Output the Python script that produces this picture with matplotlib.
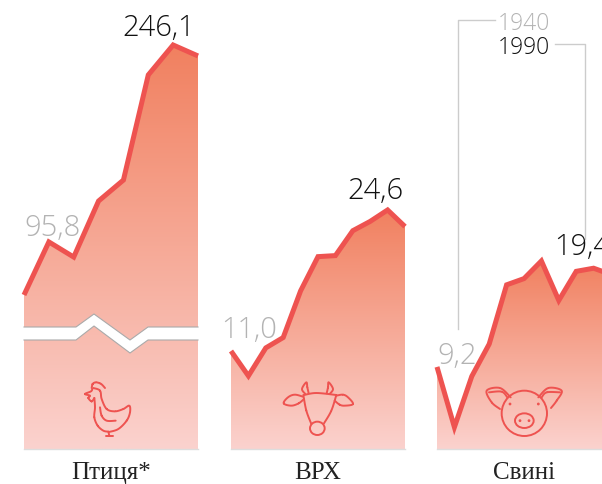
import numpy as np
import matplotlib
matplotlib.use("Agg")
import matplotlib.pyplot as plt
from matplotlib.colors import LinearSegmentedColormap
from matplotlib.path import Path
from matplotlib.patches import Polygon, PathPatch, Circle, Ellipse
from matplotlib.transforms import Affine2D

W, H = 602, 485
RED = "#ee5350"
BASE_Y = 450

# values
poultry = [95.8, 127.7, 118.6, 152.3, 164.9, 228.1, 246.1, 239.5]
cattle = [11.0, 8.6, 11.3, 12.3, 16.8, 20.1, 20.2, 22.6, 23.5, 24.6, 23.0]
pigs = [9.2, 3.4, 8.3, 11.4, 17.1, 17.7, 19.4, 15.6, 18.4, 18.7, 18.1]

names = ["Птиця*", "ВРХ", "Свині"]
first_labels = ["95,8", "11,0", "9,2"]
peak_labels = ["246,1", "24,6", "19,4"]

plt.rcParams["font.family"] = ["Open Sans", "DejaVu Sans"]
fig = plt.figure(figsize=(W / 100, H / 100), dpi=100)
grad = LinearSegmentedColormap.from_list("g", ["#f1805f", "#fbd2ce"])

# figure pixels, y measured from the top
px = Affine2D().scale(1, -1).translate(0, H)


def panel(x0, values, ybottom, yscale):
    ax = fig.add_axes([x0 / W, (H - BASE_Y) / H, 174 / W, BASE_Y / H])
    ylim = (ybottom, ybottom + BASE_Y / yscale)
    xs = np.linspace(0, 1, len(values))
    fill = ax.fill_between(xs, ybottom, values, color="none", lw=0)
    im = ax.imshow(np.linspace(0, 1, 256)[:, None], cmap=grad, aspect="auto",
                   extent=[0, 1, ybottom, max(values)], zorder=1)
    im.set_clip_path(fill.get_paths()[0], transform=ax.transData)
    ax.plot(xs, values, color=RED, lw=3.6, solid_joinstyle="miter",
            solid_capstyle="butt", zorder=3, clip_on=False)
    ax.set_xlim(0, 1)
    ax.set_ylim(ylim)
    ax.axis("off")
    return ax


def smooth(origin, points, lw=1.4):
    # catmull-rom through hand placed icon points, given in 3x crop coordinates
    p = np.array(points, float) / 3 + origin
    p = np.vstack([p[0], p, p[-1]])
    out = []
    for i in range(1, len(p) - 2):
        for t in np.linspace(0, 1, 10):
            a = 2 * p[i] + (p[i + 1] - p[i - 1]) * t
            b = (2 * p[i - 1] - 5 * p[i] + 4 * p[i + 1] - p[i + 2]) * t ** 2
            c = (-p[i - 1] + 3 * p[i] - 3 * p[i + 1] + p[i + 2]) * t ** 3
            out.append(0.5 * (a + b + c))
    codes = [Path.MOVETO] + [Path.LINETO] * (len(out) - 1)
    fig.add_artist(PathPatch(Path(out, codes), fc="none", ec=RED, lw=lw, transform=px,
                             joinstyle="round", capstyle="round", zorder=7))


def ring(origin, cx, cy, rx, ry, lw=1.4):
    fig.add_artist(Ellipse((origin[0] + cx / 3, origin[1] + cy / 3), 2 * rx / 3, 2 * ry / 3,
                           fc="none", ec=RED, lw=lw, transform=px, zorder=7))


def dot(origin, cx, cy):
    fig.add_artist(Circle((origin[0] + cx / 3, origin[1] + cy / 3), 1.4, fc=RED, ec="none",
                          transform=px, zorder=7))


# poultry has its own slope and a cut through the lower part
panel(24, poultry, 3.2, 1.6633)
panel(231, cattle, 1.55, 10.37)
# the pig panel runs past the right edge of the figure
panel(437, pigs, 1.3, 10.39)

# axis break
top_edge = [(24, 328), (76, 328), (94, 315), (130, 341), (148, 328), (198, 328)]
bot_edge = [(24, 341), (76, 341), (94, 327), (130, 354), (148, 341), (198, 341)]
fig.add_artist(Polygon(top_edge + bot_edge[::-1], fc="white", ec="none", transform=px, zorder=5))
for edge in (top_edge, bot_edge):
    fig.add_artist(plt.Line2D(*zip(*edge), color="#aaaaaa", lw=0.8, transform=px, zorder=6))

# baselines
for x0, x1 in [(24, 198), (231, 405), (437, 602)]:
    fig.add_artist(plt.Line2D([x0, x1], [BASE_Y, BASE_Y], color="#dddddd", lw=1, transform=px))


# text
def label(x, y, s, color, size=21, **kw):
    fig.text(x / W, 1 - y / H, s, color=color, fontsize=size, va="baseline", **kw)


label(24, 236, first_labels[0], "#b3b3b3", weight="light")
label(122, 36, peak_labels[0], "#111111", weight="light")
label(221, 338, first_labels[1], "#b3b3b3", weight="light")
label(347, 199, peak_labels[1], "#111111", weight="light")
label(437, 364, first_labels[2], "#b3b3b3", weight="light")
label(554, 255, peak_labels[2], "#111111", weight="light")
label(498, 30, "1940", "#b3b3b3", size=16.5, weight="light")
label(498, 54, "1990", "#111111", size=16.5, weight="light")
for x, s in zip([111, 318, 524], names):
    fig.text(x / W, 1 - 479 / H, s, color="#222222", fontsize=18, ha="center",
             va="baseline", family="Liberation Serif")

# leader lines
for xs, ys in [([458, 458, 495], [330, 21, 21]), ([555, 585, 585], [45, 45, 240])]:
    fig.add_artist(plt.Line2D(xs, ys, color="#cccccc", lw=1, transform=px))

# chicken
o = (75, 375)
smooth(o, [(50, 42), (53, 30), (62, 25), (75, 28), (82, 33), (90, 42)])
smooth(o, [(52, 45), (48, 52), (30, 60), (45, 65), (40, 72), (50, 82), (58, 72)])
smooth(o, [(58, 72), (60, 100), (58, 130), (68, 155), (85, 170), (100, 173)])
smooth(o, [(55, 42), (75, 50), (80, 75), (95, 105), (120, 112), (145, 105), (163, 95),
           (165, 115), (155, 140), (130, 165), (102, 174)])
smooth(o, [(75, 100), (80, 125), (95, 140), (122, 140)])
smooth(o, [(100, 173), (103, 185)])
smooth(o, [(92, 187), (115, 187)])

# cow
o = (278, 375)
smooth(o, [(78, 63), (115, 57), (175, 63)])
smooth(o, [(76, 63), (85, 110), (100, 150)])
smooth(o, [(175, 63), (160, 110), (138, 148)])
ring(o, 118, 163, 22, 20)
smooth(o, [(82, 60), (72, 45), (85, 25), (88, 40), (92, 58)])
smooth(o, [(155, 60), (165, 45), (152, 25), (150, 40), (146, 58)])
smooth(o, [(75, 68), (50, 62), (30, 70), (17, 88), (40, 95), (62, 88), (78, 75)])
smooth(o, [(175, 65), (195, 62), (210, 70), (225, 90), (200, 95), (185, 92), (170, 80)])

# pig
o = (420, 220)
ring(o, 313, 583, 68, 68)
ring(o, 313, 605, 28, 22)
for cx, cy in [(300, 605), (327, 605), (270, 555), (355, 555)]:
    dot(o, cx, cy)
smooth(o, [(272, 535), (240, 507), (200, 515), (215, 550), (240, 570)])
smooth(o, [(207, 520), (245, 518), (262, 535)])
smooth(o, [(355, 535), (385, 507), (425, 515), (410, 545), (393, 567)])
smooth(o, [(420, 520), (380, 520), (365, 535)])

plt.savefig("out.png", dpi=100)
